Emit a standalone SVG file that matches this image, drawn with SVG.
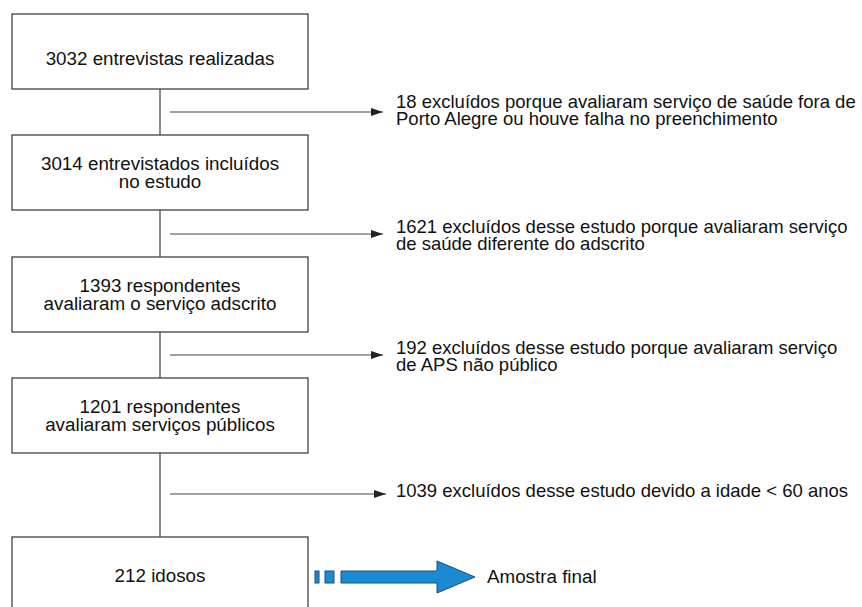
<svg xmlns="http://www.w3.org/2000/svg" width="862" height="607" viewBox="0 0 862 607">
<defs>
<marker id="ah" markerWidth="12" markerHeight="8" refX="12" refY="4" orient="auto" markerUnits="userSpaceOnUse">
<path d="M0,0 L12,4 L0,8 Z" fill="#222"/>
</marker>
<style>
.box{fill:#fff;stroke:#333;stroke-width:1.2}
.t{font-family:"Liberation Sans",Arial,sans-serif;font-size:18.8px;fill:#111}
.e{font-size:18.5px}
.c{text-anchor:middle}
.ln{stroke:#666;stroke-width:1.5;fill:none}
.ar{stroke:#444;stroke-width:1.2;fill:none;marker-end:url(#ah)}
</style>
</defs>
<rect width="862" height="607" fill="#fff"/>
<g id="connectors">
<line class="ln" x1="160" y1="89" x2="160" y2="135"/>
<line class="ln" x1="160" y1="210" x2="160" y2="257"/>
<line class="ln" x1="160" y1="332" x2="160" y2="378"/>
<line class="ln" x1="160" y1="453" x2="160" y2="537"/>
<line class="ar" x1="170" y1="112" x2="383" y2="112"/>
<line class="ar" x1="170" y1="234" x2="383" y2="234"/>
<line class="ar" x1="170" y1="355" x2="383" y2="355"/>
<line class="ar" x1="170" y1="494" x2="386" y2="494"/>
</g>
<g id="n1">
<rect class="box" x="12" y="14" width="296" height="75"/>
<text class="t c" x="160" y="65">3032 entrevistas realizadas</text>
</g>
<g id="n2">
<rect class="box" x="12" y="135" width="296" height="75"/>
<text class="t c" x="160" y="170">3014 entrevistados incluídos</text>
<text class="t c" x="160" y="188">no estudo</text>
</g>
<g id="n3">
<rect class="box" x="12" y="257" width="296" height="75"/>
<text class="t c" x="160" y="292">1393 respondentes</text>
<text class="t c" x="160" y="310">avaliaram o serviço adscrito</text>
</g>
<g id="n4">
<rect class="box" x="12" y="378" width="296" height="75"/>
<text class="t c" x="160" y="413">1201 respondentes</text>
<text class="t c" x="160" y="431">avaliaram serviços públicos</text>
</g>
<g id="n5">
<rect class="box" x="12" y="537" width="296" height="90"/>
<text class="t c" x="160" y="582">212 idosos</text>
</g>
<g id="e1">
<text class="t e" x="396" y="107.5">18 excluídos porque avaliaram serviço de saúde fora de</text>
<text class="t e" x="396" y="125">Porto Alegre ou houve falha no preenchimento</text>
</g>
<g id="e2">
<text class="t e" x="396" y="232.5">1621 excluídos desse estudo porque avaliaram serviço</text>
<text class="t e" x="396" y="250">de saúde diferente do adscrito</text>
</g>
<g id="e3">
<text class="t e" x="396" y="353.5">192 excluídos desse estudo porque avaliaram serviço</text>
<text class="t e" x="396" y="371">de APS não público</text>
</g>
<g id="e4">
<text class="t e" x="396" y="497">1039 excluídos desse estudo devido a idade &lt; 60 anos</text>
</g>
<g id="final">
<rect x="315" y="571" width="4" height="12" fill="#1a8bd3" stroke="#1d4e74" stroke-width="1"/>
<rect x="325" y="571" width="9" height="12" fill="#1a8bd3" stroke="#1d4e74" stroke-width="1"/>
<path d="M341,571 L437,571 L437,561 L475,577 L437,593 L437,583 L341,583 Z" fill="#1a8bd3" stroke="#1d4e74" stroke-width="1"/>
<text class="t" x="487" y="583">Amostra final</text>
</g>
</svg>
